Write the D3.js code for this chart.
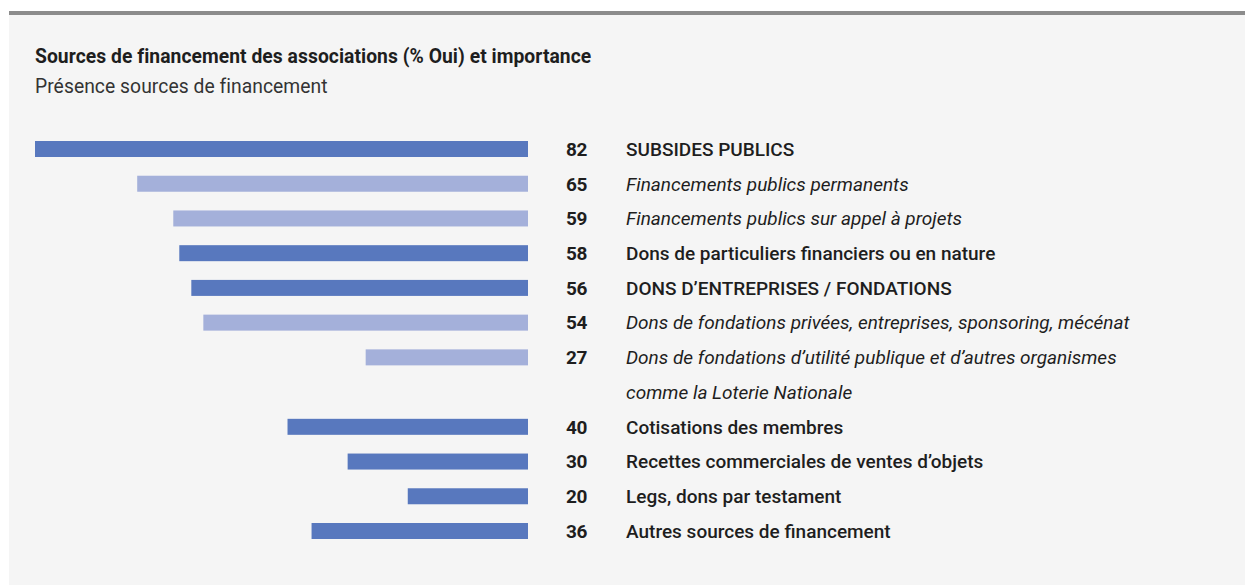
<!DOCTYPE html>
<html>
<head>
<meta charset="utf-8">
<script src="https://cdn.jsdelivr.net/npm/d3@7"></script>
<style>
  body { margin: 0; background: #fff; }
  svg { display: block; }
  text { font-family: Roboto, "Noto Sans", sans-serif; fill: #1e1e1e; }
</style>
</head>
<body>
<script>
// ---- data ----
var labels = [
  ["SUBSIDES PUBLICS"],
  ["Financements publics permanents"],
  ["Financements publics sur appel à projets"],
  ["Dons de particuliers financiers ou en nature"],
  ["DONS D\u2019ENTREPRISES / FONDATIONS"],
  ["Dons de fondations privées, entreprises, sponsoring, mécénat"],
  ["Dons de fondations d\u2019utilité publique et d\u2019autres organismes", "comme la Loterie Nationale"],
  ["Cotisations des membres"],
  ["Recettes commerciales de ventes d\u2019objets"],
  ["Legs, dons par testament"],
  ["Autres sources de financement"]
];
var values = [82, 65, 59, 58, 56, 54, 27, 40, 30, 20, 36];
// "main" = category level, "sub" = detail under a category (italic, light bar)
var kinds = ["main", "sub", "sub", "main", "main", "sub", "sub", "main", "main", "main", "main"];

var title = "Sources de financement des associations (% Oui) et importance";
var subtitle = "Présence sources de financement";

// ---- layout ----
var W = 1245, H = 585;
var barRight = 528;
var color = { main: "#5878be", sub: "#a4b0da" };

var svg = d3.select("body").append("svg")
    .attr("width", W)
    .attr("height", H);

// panel
svg.append("rect")
    .attr("x", 9).attr("y", 14)
    .attr("width", W - 9).attr("height", H - 14)
    .attr("fill", "#f5f5f5");
svg.append("rect")
    .attr("x", 9).attr("y", 11)
    .attr("width", W - 9).attr("height", 4)
    .attr("fill", "#8c8c8c");

svg.append("text")
    .attr("x", 35).attr("y", 63)
    .style("font-size", "19.3px")
    .style("font-weight", "bold")
    .style("letter-spacing", "0.05px")
    .text(title);

svg.append("text")
    .attr("x", 35).attr("y", 93)
    .style("font-size", "19.3px")
    .style("fill", "#333")
    .style("letter-spacing", "0.05px")
    .text(subtitle);

// each row takes as many text lines as its label has
var slots = [];
var n = 0;
labels.forEach(function(l) { slots.push(n); n += l.length; });

var y = d3.scaleLinear().domain([0, n - 1]).range([149, 531]);
var x = d3.scaleLinear().domain([0, 82]).range([0, 493]);

var rows = svg.append("g").selectAll("g")
    .data(values)
    .join("g")
    .attr("transform", function(d, i) { return "translate(0," + y(slots[i]) + ")"; });

rows.append("rect")
    .attr("x", function(d) { return barRight - x(d); })
    .attr("y", -8)
    .attr("width", function(d) { return x(d); })
    .attr("height", 16)
    .attr("fill", function(d, i) { return color[kinds[i]]; });

rows.append("text")
    .attr("x", 566)
    .attr("dy", "0.36em")
    .style("font-size", "19px")
    .style("font-weight", "bold")
    .style("letter-spacing", "-0.3px")
    .text(function(d) { return d; });

rows.each(function(d, i) {
    var g = d3.select(this);
    labels[i].forEach(function(line, j) {
        g.append("text")
            .attr("x", 626)
            .attr("y", y(slots[i] + j) - y(slots[i]))
            .attr("dy", "0.36em")
            .style("font-size", "19px")
            .style("font-weight", kinds[i] == "main" ? 500 : 400)
            .style("font-style", kinds[i] == "sub" ? "italic" : "normal")
            .style("letter-spacing", "0px")
            .text(line);
    });
});
</script>
</body>
</html>
